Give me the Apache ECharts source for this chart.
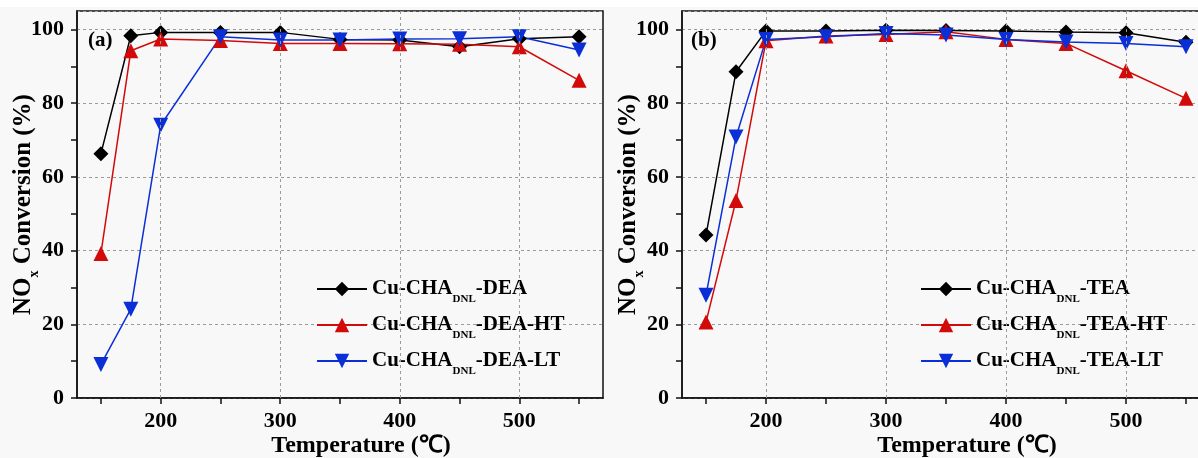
<!DOCTYPE html>
<html>
<head>
<meta charset="utf-8">
<script src="https://cdn.jsdelivr.net/npm/echarts@6/dist/echarts.min.js"></script>
<style>
  html, body { margin: 0; padding: 0; background: #fff; }
  #chart { width: 1198px; height: 458px; background: linear-gradient(#fff 0, #fff 7px, #f8f8f8 7px); }
</style>
</head>
<body>
<div id="chart"></div>
<script>
// temperature (°C) and NOx conversion (%)
const temps = [150, 175, 200, 250, 300, 350, 400, 450, 500, 550]
const dea = [66.3, 98.3, 99.2, 99.2, 99.2, 97.3, 97.1, 95.3, 97.5, 98.0]
const deaHT = [39.2, 94.2, 97.4, 97.0, 96.2, 96.2, 96.1, 96.0, 95.3, 86.2]
const deaLT = [9.1, 24.1, 74.0, 98.0, 97.1, 97.1, 97.4, 97.5, 98.0, 94.4]
const tea = [44.2, 88.5, 99.6, 99.6, 99.8, 99.7, 99.6, 99.3, 99.1, 96.5]
const teaHT = [20.6, 53.6, 96.9, 98.2, 98.6, 99.4, 97.3, 96.2, 88.8, 81.3]
const teaLT = [27.9, 70.8, 97.3, 98.0, 98.9, 98.5, 97.3, 96.6, 96.2, 95.3]

const xTicks = [150, 200, 250, 300, 350, 400, 450, 500, 550]
const xLabels = [200, 300, 400, 500]
const yTicks = [0, 10, 20, 30, 40, 50, 60, 70, 80, 90, 100]
const yLabels = [0, 20, 40, 60, 80, 100]

const FONT = '"Liberation Serif", "Times New Roman", serif'
const colors = ['#000000', '#d20a0a', '#0b2fd6']
const symbols = ['diamond', 'triangle', 'triangle']
const rotates = [0, 0, 180]
const dashed = { color: '#9a9a9a', type: [3, 3], width: 1 }

const chart = echarts.init(document.getElementById('chart'))

const pair = (v, i) => [temps[i], v]

function mainX(gridIndex) {
  return {
    type: 'value', gridIndex, min: 130, max: 570, interval: 50,
    axisLine: { lineStyle: { color: '#111', width: 1.5 } },
    axisTick: { show: true, length: 6, lineStyle: { color: '#111', width: 1.5 }, customValues: xTicks },
    axisLabel: {
      customValues: xLabels,
      formatter: v => (xLabels.indexOf(v) !== -1 ? String(v) : ''),
      color: '#000', fontFamily: FONT, fontWeight: 'bold', fontSize: 22, margin: 12,
    },
    splitLine: { show: false },
    name: 'Temperature (℃)',
    nameLocation: 'middle',
    nameMoveOverlap: false,
    nameGap: 36,
    nameTextStyle: { color: '#000', fontFamily: FONT, fontWeight: 'bold', fontSize: 24, padding: [0, 0, 0, 42] },
  }
}

function mainY(gridIndex) {
  return {
    type: 'value', gridIndex, min: 0, max: 105, interval: 10,
    axisLine: { show: true, lineStyle: { color: '#111', width: 1.5 } },
    axisTick: { show: true, length: 6, lineStyle: { color: '#111', width: 1.5 }, customValues: yTicks },
    axisLabel: {
      customValues: yLabels,
      formatter: v => (yLabels.indexOf(v) !== -1 ? String(v) : ''),
      color: '#000', fontFamily: FONT, fontWeight: 'bold', fontSize: 22, margin: 13,
    },
    splitLine: { show: false },
    name: 'NO{sub|x} Conversion (%)',
    nameLocation: 'middle',
    nameMoveOverlap: false,
    nameGap: 36,
    nameTextStyle: {
      color: '#000', fontFamily: FONT, fontWeight: 'bold', fontSize: 25, lineHeight: 34,
      rich: { sub: { fontFamily: FONT, fontWeight: 'bold', fontSize: 14, lineHeight: 34, verticalAlign: 'bottom' } },
    },
  }
}

// second y axis on the same scale, only for the dashed grid lines every 20
function gridY(gridIndex) {
  return {
    type: 'value', gridIndex, min: 0, max: 105, interval: 20,
    axisLine: { show: false }, axisTick: { show: false }, axisLabel: { show: false },
    splitLine: { show: true, lineStyle: dashed },
  }
}

// vertical dashed grid lines at the labelled temperatures
function gridSeries(xAxisIndex, yAxisIndex) {
  return {
    type: 'line', xAxisIndex, yAxisIndex, data: [], z: 1, silent: true,
    markLine: {
      silent: true, symbol: 'none', label: { show: false }, animation: false,
      lineStyle: dashed, emphasis: { disabled: true },
      data: xLabels.map(v => ({ xAxis: v })),
    },
  }
}

function makeSeries(name, values, idx, xAxisIndex, yAxisIndex) {
  return {
    name, type: 'line', xAxisIndex, yAxisIndex, z: 3,
    data: values.map(pair),
    symbol: symbols[idx], symbolRotate: rotates[idx],
    symbolSize: 15,
    lineStyle: { color: colors[idx], width: 1.5 },
    itemStyle: { color: colors[idx] },
  }
}

function legend(left, names) {
  return {
    data: names, orient: 'vertical', left, top: 268,
    itemWidth: 50, itemHeight: 18, itemGap: 4,
    formatter: n => 'Cu-CHA{sub|DNL}' + n.slice(6),
    textStyle: {
      color: '#000', fontFamily: FONT, fontWeight: 'bold', fontSize: 21, lineHeight: 32,
      rich: { sub: { fontFamily: FONT, fontWeight: 'bold', fontSize: 11, lineHeight: 32, verticalAlign: 'bottom' } },
    },
  }
}

const namesA = ['Cu-CHA-DEA', 'Cu-CHA-DEA-HT', 'Cu-CHA-DEA-LT']
const namesB = ['Cu-CHA-TEA', 'Cu-CHA-TEA-HT', 'Cu-CHA-TEA-LT']

chart.setOption({
  animation: false,
  grid: [
    { left: 77, top: 11, width: 526, height: 387, outerBoundsMode: 'none', containLabel: false, show: true, borderColor: '#111', borderWidth: 1.5, backgroundColor: 'transparent' },
    { left: 682, top: 11, width: 528, height: 387, outerBoundsMode: 'none', containLabel: false, show: true, borderColor: '#111', borderWidth: 1.5, backgroundColor: 'transparent' },
  ],
  xAxis: [mainX(0), mainX(1)],
  yAxis: [mainY(0), gridY(0), mainY(1), gridY(1)],
  legend: [legend(311, namesA), legend(915, namesB)],
  graphic: [
    { type: 'text', left: 88, top: 30, style: { text: '(a)', font: 'bold 21px ' + FONT, fill: '#000' } },
    { type: 'text', left: 691, top: 30, style: { text: '(b)', font: 'bold 21px ' + FONT, fill: '#000' } },
  ],
  series: [
    gridSeries(0, 0),
    makeSeries(namesA[0], dea, 0, 0, 0),
    makeSeries(namesA[1], deaHT, 1, 0, 0),
    makeSeries(namesA[2], deaLT, 2, 0, 0),
    gridSeries(1, 2),
    makeSeries(namesB[0], tea, 0, 1, 2),
    makeSeries(namesB[1], teaHT, 1, 1, 2),
    makeSeries(namesB[2], teaLT, 2, 1, 2),
  ],
})
</script>
</body>
</html>
